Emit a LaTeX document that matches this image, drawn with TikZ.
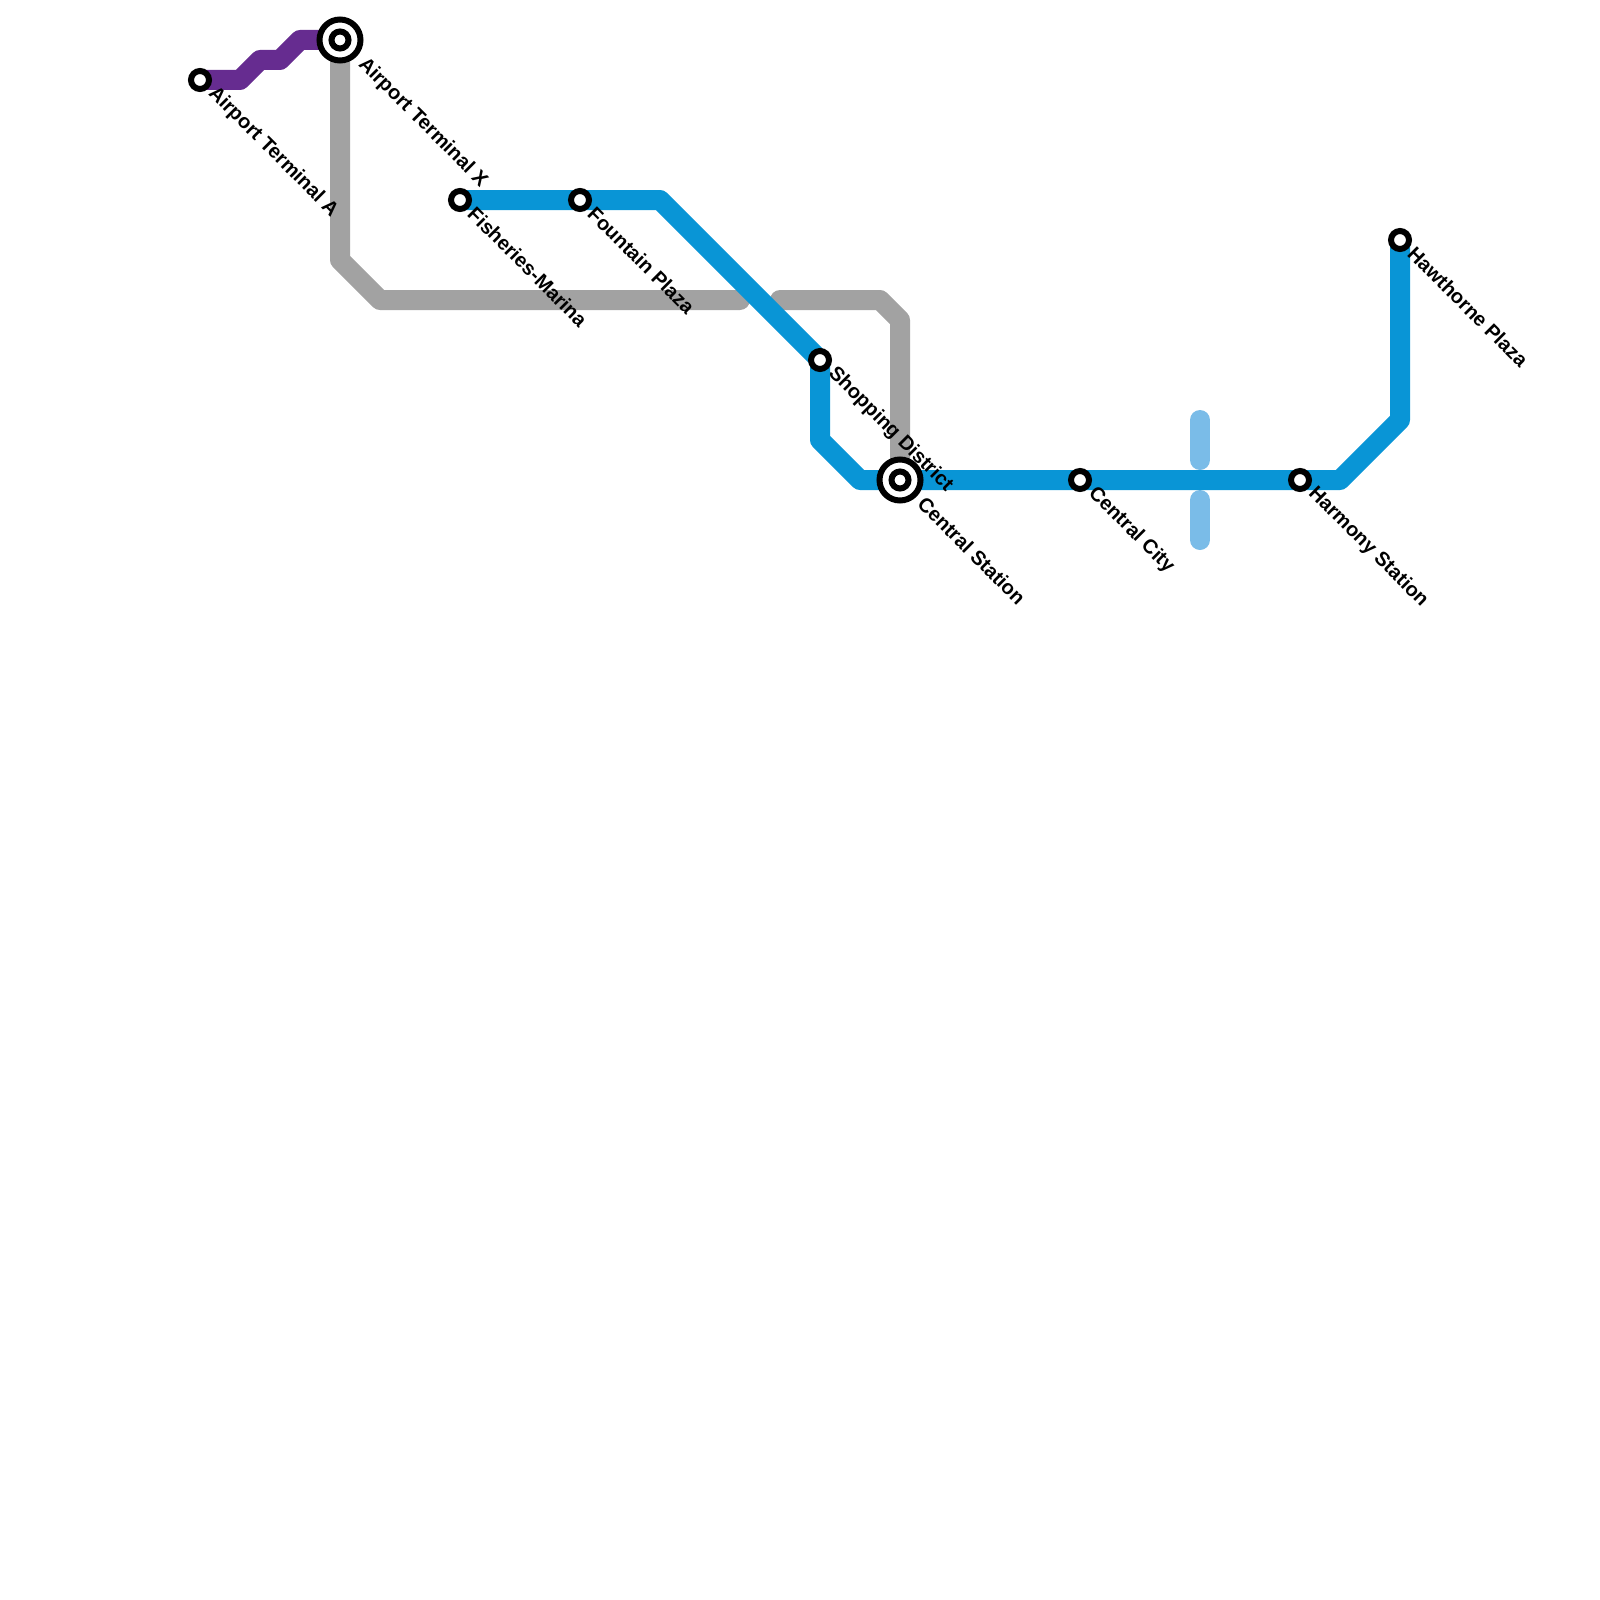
\documentclass[tikz,border=0pt]{standalone}
\usepackage{fontspec}
\setmainfont{Liberation Sans}
\usetikzlibrary{backgrounds}
\definecolor{lblue}{HTML}{0995D6}
\definecolor{lpale}{HTML}{7ABCE8}
\definecolor{lgrey}{HTML}{A2A2A2}
\definecolor{lpurple}{HTML}{662C90}
\tikzset{
  x=1pt,y=-1pt,
  route/.style={line width=20pt,line cap=round,line join=round},
  stop/.style={circle,draw=black,fill=white,line width=6pt,minimum size=18pt,inner sep=0pt,outer sep=0pt},
  hubring/.style={circle,draw=black,fill=white,line width=6pt,minimum size=41pt,inner sep=0pt,outer sep=0pt},
  hubcore/.style={circle,draw=black,fill=white,line width=6pt,minimum size=17pt,inner sep=0pt,outer sep=0pt},
  lab/.style={anchor=west,rotate=-45,inner sep=0pt,outer sep=0pt,font=\fontsize{20pt}{22pt}\selectfont\bfseries,text=black}
}
\begin{document}
\begin{tikzpicture}
\useasboundingbox (0,0) rectangle (1600,1600);
% stations
\node[stop] (ata) at (200,80) {};
\node[hubring] (atxo) at (340,40) {};
\node[hubcore] (atx) at (340,40) {};
\node[stop] (fis) at (460,200) {};
\node[stop] (fou) at (580,200) {};
\node[stop] (sho) at (820,360) {};
\node[hubring] (ceno) at (900,480) {};
\node[hubcore] (cen) at (900,480) {};
\node[stop] (cit) at (1080,480) {};
\node[stop] (har) at (1300,480) {};
\node[stop] (haw) at (1400,240) {};
% bends
\coordinate (p1) at (240,80);
\coordinate (p2) at (260,60);
\coordinate (p3) at (280,60);
\coordinate (p4) at (300,40);
\coordinate (g1) at (340,260);
\coordinate (g2) at (380,300);
\coordinate (g3) at (740,300);
\coordinate (g4) at (780,300);
\coordinate (g5) at (880,300);
\coordinate (g6) at (900,320);
\coordinate (b1) at (660,200);
\coordinate (b2) at (820,440);
\coordinate (b3) at (860,480);
\coordinate (b4) at (1340,480);
\coordinate (b5) at (1400,420);
\coordinate (u1) at (1200,420);
\coordinate (u2) at (1200,460);
\coordinate (u3) at (1200,500);
\coordinate (u4) at (1200,540);
\begin{scope}[on background layer]
\draw[route,lpurple] (ata.center) -- (p1) -- (p2) -- (p3) -- (p4) -- (atx.center);
\draw[route,lgrey] (atx.center) -- (g1) -- (g2) -- (g3);
\draw[route,lgrey] (g4) -- (g5) -- (g6) -- (cen.center);
\draw[route,lpale] (u1) -- (u2);
\draw[route,lpale] (u3) -- (u4);
\draw[route,lblue] (fis.center) -- (fou.center) -- (b1) -- (sho.center) -- (b2) -- (b3) -- (cen.center) -- (cit.center) -- (har.center) -- (b4) -- (b5) -- (haw.center);
\end{scope}
% labels
\node[lab] (tata) at (211.5,90.5) {Airport Terminal A};
\node[lab] (tatx) at (361.5,61.5) {Airport Terminal X};
\node[lab] (tfis) at (471.5,210.5) {Fisheries-Marina};
\node[lab] (tfou) at (591.5,210.5) {Fountain Plaza};
\node[lab] (tsho) at (831.5,370.5) {Shopping District};
\node[lab] (tcen) at (921.5,500.5) {Central Station};
\node[lab] (tcit) at (1091.5,490.5) {Central City};
\node[lab] (thar) at (1311.5,490.5) {Harmony Station};
\node[lab] (thaw) at (1411.5,250.5) {Hawthorne Plaza};
\end{tikzpicture}
\end{document}
